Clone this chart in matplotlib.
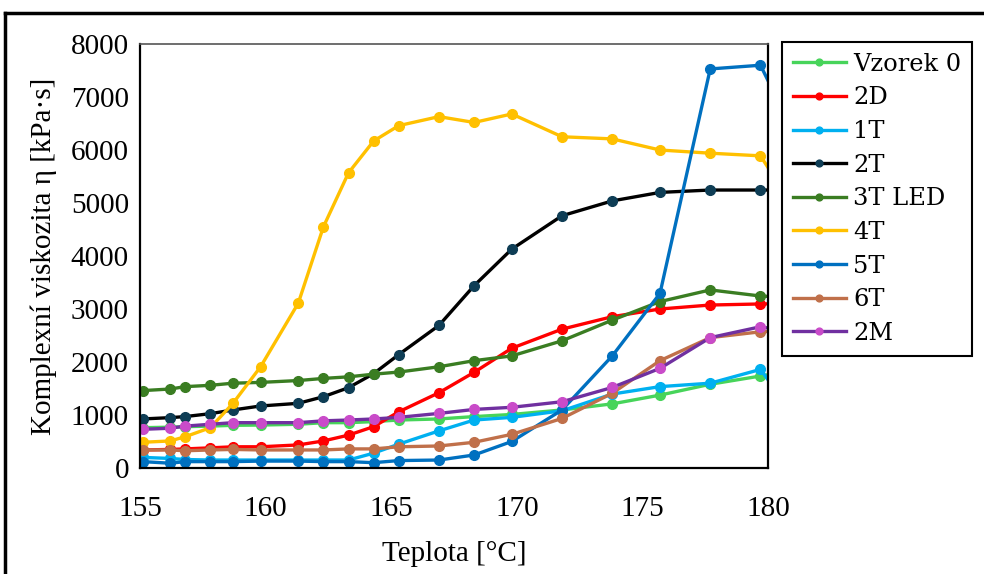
import matplotlib
matplotlib.use("Agg")
import matplotlib.pyplot as plt
from matplotlib.lines import Line2D

# temperatures of the measured points [°C] (last one lies past the axis and is clipped)
teplota = [155.1, 156.2, 156.8, 157.8, 158.7, 159.8, 161.3, 162.3, 163.3, 164.3,
           165.3, 166.9, 168.3, 169.8, 171.8, 173.8, 175.7, 177.7, 179.7, 181.7]

# complex viscosity [kPa·s]
vzorek0 = [760, 770, 780, 790, 805, 810, 825, 855, 855, 875,
           905, 925, 970, 1010, 1095, 1210, 1375, 1580, 1735, 1900]
d2 = [340, 350, 360, 380, 400, 400, 435, 510, 620, 780,
      1060, 1420, 1805, 2260, 2620, 2855, 3000, 3075, 3095, 3110]
t1 = [200, 180, 160, 150, 150, 150, 150, 150, 150, 280,
      450, 700, 905, 955, 1080, 1395, 1535, 1600, 1860, 560]
t2 = [925, 950, 970, 1025, 1095, 1170, 1220, 1345, 1515, 1780,
      2140, 2690, 3440, 4130, 4760, 5040, 5200, 5245, 5245, 5245]
t3_led = [1460, 1490, 1535, 1560, 1600, 1615, 1650, 1690, 1720, 1770,
          1810, 1910, 2025, 2115, 2400, 2790, 3140, 3360, 3245, 3200]
t4 = [485, 510, 590, 760, 1220, 1910, 3110, 4550, 5570, 6170,
      6460, 6630, 6520, 6680, 6250, 6210, 6000, 5940, 5890, 4415]
t5 = [120, 90, 120, 120, 120, 130, 130, 120, 120, 100,
      140, 150, 245, 500, 1095, 2115, 3295, 7530, 7600, 5670]
t6 = [340, 340, 325, 340, 350, 340, 340, 340, 360, 360,
      400, 415, 485, 635, 935, 1410, 2025, 2460, 2570, 2600]
m2 = [730, 750, 790, 825, 855, 855, 855, 890, 905, 925,
      955, 1030, 1105, 1145, 1250, 1520, 1880, 2460, 2665, 2500]

nazvy = ["Vzorek 0", "2D", "1T", "2T", "3T LED", "4T", "5T", "6T", "2M"]
hodnoty = [vzorek0, d2, t1, t2, t3_led, t4, t5, t6, m2]
barvy_car = ["#47D45A", "#FF0000", "#00B0F0", "#000000", "#3A7D22",
             "#FFC000", "#0070C0", "#C0704A", "#7030A0"]
barvy_bodu = ["#47D45A", "#FF0000", "#00B0F0", "#0E3D55", "#3A7D22",
              "#FFC000", "#0070C0", "#C0704A", "#C94BC9"]

plt.rcParams["font.family"] = ["Liberation Serif", "DejaVu Serif"]

fig = plt.figure(figsize=(9.84, 5.74), dpi=100)
ax = fig.add_axes([0.1423, 0.1847, 0.6382, 0.7386])

for nazev, y, c, mc in zip(nazvy, hodnoty, barvy_car, barvy_bodu):
    ax.plot(teplota, y, "-o", color=c, markerfacecolor=mc, markeredgecolor=mc,
            linewidth=2.4, markersize=7, label=nazev)

ax.set_xlim(155, 180)
ax.set_ylim(0, 8000)
ax.set_xticks([155, 160, 165, 170, 175, 180])
ax.set_yticks(range(0, 8001, 1000))
ax.tick_params(axis="both", length=0, labelsize=21, pad=8)
ax.tick_params(axis="x", pad=20)
ax.set_xlabel("Teplota [°C]", fontsize=21, labelpad=14)
ax.set_ylabel("Komplexní viskozita η [kPa·s]", fontsize=21, labelpad=10)
for s in ax.spines.values():
    s.set_linewidth(1.6)
    s.set_color("black")
ax.spines["top"].set_color("#555555")
ax.spines["top"].set_linewidth(1.2)

leg = ax.legend(loc="upper left", bbox_to_anchor=(1.022, 1.005),
                prop={"family": "DejaVu Serif", "size": 17.4},
                frameon=True, fancybox=False, edgecolor="black", framealpha=1,
                markerscale=0.7, handlelength=2.2, handletextpad=0.3,
                labelspacing=0.44, borderpad=0.45, borderaxespad=0)
leg.get_frame().set_linewidth(1.5)

# outer frame of the picture (only left and top edges are visible)
fig.add_artist(Line2D([0.005, 0.005], [0.0, 0.978], color="black", linewidth=2.5,
                      transform=fig.transFigure))
fig.add_artist(Line2D([0.005, 1.0], [0.978, 0.978], color="black", linewidth=2.5,
                      transform=fig.transFigure))

fig.savefig("out.png", dpi=100)
